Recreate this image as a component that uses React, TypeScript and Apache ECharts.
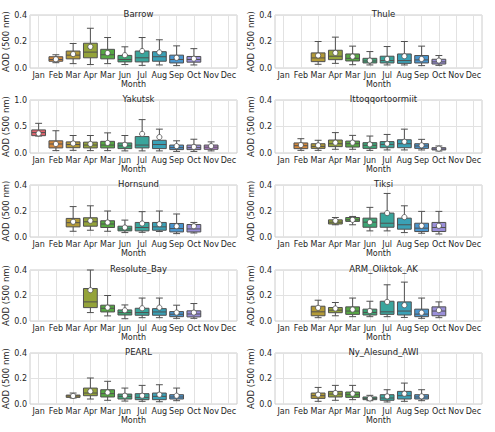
import React, { useEffect, useRef } from 'react';
import * as echarts from 'echarts';

const MONTHS = ['Jan', 'Feb', 'Mar', 'Apr', 'Mar', 'Jun', 'Jul', 'Aug', 'Sep', 'Oct', 'Nov', 'Dec'];
const MONTH_COLORS = ['#e0636d', '#d3883b', '#b39a37', '#94a33a', '#56a843', '#3ca675', '#3aa59c', '#3aa1b6', '#4a96cf', '#9a8fd9', '#b482cc', '#d578b0'];
const STATIONS = ['Barrow', 'Thule', 'Yakutsk', 'Ittoqqortoormiit', 'Hornsund', 'Tiksi', 'Resolute_Bay', 'ARM_Oliktok_AK', 'PEARL', 'Ny_Alesund_AWI'];
const Y_MAX = [0.4, 0.4, 1.0, 0.4, 0.4, 0.4, 0.4, 0.4, 0.4, 0.4];
const Y_INTERVAL = [0.2, 0.2, 0.5, 0.2, 0.2, 0.2, 0.2, 0.2, 0.2, 0.2];

// box stats per month: [whisker low, Q1, median, Q3, whisker high]; null = no data
const barrowBox = [null, [0.04, 0.051, 0.064, 0.085, 0.10], [0.033, 0.069, 0.097, 0.128, 0.185], [0.026, 0.077, 0.12, 0.187, 0.30], [0.033, 0.069, 0.10, 0.141, 0.23], [0.026, 0.046, 0.064, 0.095, 0.16], [0.02, 0.046, 0.077, 0.128, 0.23], [0.023, 0.051, 0.085, 0.123, 0.213], [0.018, 0.038, 0.064, 0.097, 0.167], [0.023, 0.044, 0.064, 0.087, 0.146], null, null];
const barrowMean = [null, 0.066, 0.105, 0.16, 0.113, 0.097, 0.128, 0.118, 0.077, 0.07, null, null];

const thuleBox = [null, null, [0.028, 0.048, 0.076, 0.114, 0.2], [0.035, 0.063, 0.089, 0.134, 0.233], [0.025, 0.053, 0.073, 0.106, 0.165], [0.023, 0.038, 0.053, 0.073, 0.124], [0.023, 0.038, 0.056, 0.089, 0.162], [0.023, 0.035, 0.056, 0.106, 0.2], [0.018, 0.038, 0.061, 0.094, 0.165], [0.02, 0.03, 0.046, 0.066, 0.094], null, null];
const thuleMean = [null, null, 0.094, 0.114, 0.086, 0.056, 0.068, 0.089, 0.068, 0.056, null, null];

const yakutskBox = [[0.32, 0.327, 0.385, 0.436, 0.56], [0.045, 0.096, 0.17, 0.23, 0.42], [0.05, 0.10, 0.16, 0.21, 0.33], [0.045, 0.096, 0.15, 0.205, 0.33], [0.045, 0.096, 0.15, 0.22, 0.38], [0.04, 0.083, 0.135, 0.19, 0.33], [0.04, 0.096, 0.15, 0.31, 0.63], [0.04, 0.083, 0.16, 0.24, 0.45], [0.03, 0.064, 0.10, 0.15, 0.23], [0.03, 0.064, 0.10, 0.15, 0.26], [0.04, 0.07, 0.11, 0.15, 0.21], null];
const yakutskMean = [0.37, 0.17, 0.18, 0.17, 0.19, 0.155, 0.36, 0.30, 0.13, 0.115, 0.13, null];

const ittoqBox = [null, [0.02, 0.033, 0.055, 0.076, 0.108], [0.02, 0.035, 0.05, 0.07, 0.096], [0.028, 0.048, 0.07, 0.098, 0.154], [0.028, 0.045, 0.07, 0.09, 0.133], [0.02, 0.035, 0.058, 0.078, 0.128], [0.023, 0.04, 0.065, 0.086, 0.14], [0.023, 0.04, 0.07, 0.10, 0.18], [0.023, 0.035, 0.053, 0.07, 0.103], [0.015, 0.023, 0.03, 0.04, 0.053], null, null];
const ittoqMean = [null, 0.06, 0.058, 0.078, 0.078, 0.065, 0.07, 0.085, 0.058, 0.033, null, null];

const hornsundBox = [null, null, [0.044, 0.078, 0.11, 0.143, 0.234], [0.052, 0.083, 0.117, 0.148, 0.24], [0.044, 0.073, 0.10, 0.125, 0.2], [0.034, 0.047, 0.062, 0.083, 0.13], [0.036, 0.047, 0.073, 0.112, 0.195], [0.042, 0.052, 0.078, 0.112, 0.2], [0.026, 0.039, 0.065, 0.104, 0.177], [0.031, 0.039, 0.062, 0.096, 0.112], null, null];
const hornsundMean = [null, null, 0.117, 0.125, 0.112, 0.073, 0.104, 0.099, 0.083, 0.083, null, null];

const tiksiBox = [null, null, null, [0.094, 0.10, 0.114, 0.132, 0.15], [0.094, 0.12, 0.132, 0.15, 0.158], [0.047, 0.075, 0.114, 0.145, 0.228], [0.047, 0.075, 0.106, 0.184, 0.335], [0.034, 0.06, 0.094, 0.145, 0.24], [0.029, 0.042, 0.068, 0.106, 0.197], [0.023, 0.042, 0.073, 0.112, 0.197], null, null];
const tiksiMean = [null, null, null, 0.125, 0.132, 0.114, 0.184, 0.153, 0.086, 0.086, null, null];

const resoluteBox = [null, null, null, [0.066, 0.105, 0.15, 0.255, 0.40], [0.04, 0.071, 0.10, 0.124, 0.2], [0.018, 0.047, 0.066, 0.087, 0.126], [0.026, 0.045, 0.066, 0.10, 0.18], [0.026, 0.045, 0.071, 0.097, 0.18], [0.021, 0.034, 0.053, 0.074, 0.124], [0.021, 0.032, 0.055, 0.08, 0.137], null, null];
const resoluteMean = [null, null, null, 0.242, 0.105, 0.084, 0.10, 0.105, 0.066, 0.066, null, null];

const oliktokBox = [null, null, [0.026, 0.041, 0.072, 0.116, 0.163], [0.041, 0.065, 0.085, 0.106, 0.145], [0.034, 0.052, 0.078, 0.111, 0.18], [0.034, 0.047, 0.067, 0.093, 0.155], [0.034, 0.052, 0.072, 0.155, 0.284], [0.028, 0.047, 0.078, 0.15, 0.305], [0.021, 0.034, 0.054, 0.093, 0.18], [0.026, 0.041, 0.078, 0.111, 0.15], null, null];
const oliktokMean = [null, null, 0.103, 0.098, 0.09, 0.078, 0.15, 0.124, 0.065, 0.085, null, null];

const pearlBox = [null, null, [0.047, 0.052, 0.063, 0.07, 0.086], [0.039, 0.065, 0.086, 0.125, 0.204], [0.029, 0.055, 0.081, 0.112, 0.178], [0.023, 0.039, 0.06, 0.078, 0.125], [0.021, 0.034, 0.052, 0.081, 0.146], [0.018, 0.034, 0.06, 0.086, 0.151], [0.026, 0.039, 0.055, 0.073, 0.125], null, null, null];
const pearlMean = [null, null, 0.063, 0.10, 0.091, 0.065, 0.065, 0.073, 0.065, null, null, null];

const nyAlesundBox = [null, null, [0.021, 0.044, 0.065, 0.086, 0.13], [0.029, 0.055, 0.078, 0.099, 0.146], [0.034, 0.052, 0.073, 0.094, 0.146], [0.026, 0.034, 0.044, 0.055, 0.068], [0.016, 0.029, 0.047, 0.073, 0.112], [0.021, 0.039, 0.065, 0.099, 0.164], [0.026, 0.039, 0.055, 0.073, 0.112], null, null, null];
const nyAlesundMean = [null, null, 0.073, 0.086, 0.081, 0.044, 0.06, 0.081, 0.06, null, null, null];

const BOXES = [barrowBox, thuleBox, yakutskBox, ittoqBox, hornsundBox, tiksiBox, resoluteBox, oliktokBox, pearlBox, nyAlesundBox];
const MEANS = [barrowMean, thuleMean, yakutskMean, ittoqMean, hornsundMean, tiksiMean, resoluteMean, oliktokMean, pearlMean, nyAlesundMean];

// layout
const COL_LEFT = [30, 275];
const PLOT_W = 207;
const ROW_TOP = [15, 100, 185, 270, 353];
const ROW_H = [53, 53, 52, 51, 51];
const FONT = 'DejaVu Sans';
const TEXT = '#262626';
const EDGE = '#505050';

function renderBox(params: any, api: any) {
  const k = api.value(0);
  const vals = [1, 2, 3, 4, 5].map((d) => api.value(d));
  const mean = api.value(6);
  const x = api.coord([k, 0])[0];
  const bw = api.size([1, 0])[0] * 0.8;
  const ys = vals.map((v) => api.coord([k, v])[1]);
  const [yLo, yQ1, yMed, yQ3, yHi] = ys;
  const yMean = api.coord([k, mean])[1];
  const half = bw / 2;
  const cap = bw / 4;
  const ls = { stroke: EDGE, lineWidth: 1 };
  return {
    type: 'group',
    children: [
      { type: 'line', shape: { x1: x, y1: yQ3, x2: x, y2: yHi }, style: ls },
      { type: 'line', shape: { x1: x, y1: yQ1, x2: x, y2: yLo }, style: ls },
      { type: 'line', shape: { x1: x - cap, y1: yHi, x2: x + cap, y2: yHi }, style: ls },
      { type: 'line', shape: { x1: x - cap, y1: yLo, x2: x + cap, y2: yLo }, style: ls },
      { type: 'rect', shape: { x: x - half, y: yQ3, width: bw, height: yQ1 - yQ3 }, style: { fill: MONTH_COLORS[k], stroke: EDGE, lineWidth: 1 } },
      { type: 'line', shape: { x1: x - half, y1: yMed, x2: x + half, y2: yMed }, style: ls },
      { type: 'circle', shape: { cx: x, cy: yMean, r: 2.6 }, style: { fill: '#ffffff', stroke: EDGE, lineWidth: 0.8 } },
    ],
  };
}

function buildOption() {
  const grid: any[] = [];
  const xAxis: any[] = [];
  const yAxis: any[] = [];
  const title: any[] = [];
  const series: any[] = [];
  STATIONS.forEach((name, i) => {
    const col = i % 2;
    const row = Math.floor(i / 2);
    const left = COL_LEFT[col];
    const top = ROW_TOP[row];
    grid.push({ left, top, width: PLOT_W, height: ROW_H[row], show: true, borderColor: '#cccccc', borderWidth: 1, backgroundColor: '#ffffff' });
    title.push({ text: name, left: left + PLOT_W / 2, top: top - 11, textAlign: 'center', textStyle: { fontSize: 8.5, fontWeight: 'normal', color: TEXT, fontFamily: FONT } });
    xAxis.push({
      gridIndex: i, type: 'category', data: MONTHS, boundaryGap: true,
      axisLine: { show: false }, axisTick: { show: false }, splitLine: { show: false },
      axisLabel: { interval: 0, fontSize: 8, color: TEXT, margin: 3, fontFamily: FONT },
      name: 'Month', nameLocation: 'middle', nameGap: 12,
      nameTextStyle: { fontSize: 8, color: TEXT, fontFamily: FONT },
    });
    yAxis.push({
      gridIndex: i, type: 'value', min: 0, max: Y_MAX[i], interval: Y_INTERVAL[i],
      axisLine: { show: false }, axisTick: { show: false },
      splitLine: { show: true, lineStyle: { color: '#e2e2e2', width: 1 } },
      axisLabel: { fontSize: 8, color: TEXT, margin: 3, fontFamily: FONT, formatter: (v: number) => v.toFixed(1) },
      name: 'AOD (500 nm)', nameLocation: 'middle', nameGap: 17, nameRotate: 90,
      nameTextStyle: { fontSize: 8.5, color: TEXT, fontFamily: FONT },
    });
    const data: any[] = [];
    BOXES[i].forEach((b, k) => {
      if (b) data.push([k, ...b, MEANS[i][k]]);
    });
    series.push({
      type: 'custom', xAxisIndex: i, yAxisIndex: i, renderItem: renderBox, data,
      encode: { x: 0, y: [1, 5] }, z: 3, silent: true,
      markLine: {
        silent: true, symbol: ['none', 'none'], z: 1, label: { show: false },
        lineStyle: { color: '#e2e2e2', type: 'solid', width: 1 },
        data: MONTHS.map((_, k) => ({ xAxis: k })),
      },
    });
  });
  return { animation: false, backgroundColor: '#ffffff', grid, xAxis, yAxis, title, series };
}

export default function App() {
  const ref = useRef<HTMLDivElement>(null);
  useEffect(() => {
    const chart = echarts.init(ref.current!, null, { renderer: 'svg' });
    chart.setOption(buildOption() as any);
    return () => chart.dispose();
  }, []);
  return <div ref={ref} style={{ position: 'absolute', left: 0, top: 0, width: 495, height: 432 }} />;
}
